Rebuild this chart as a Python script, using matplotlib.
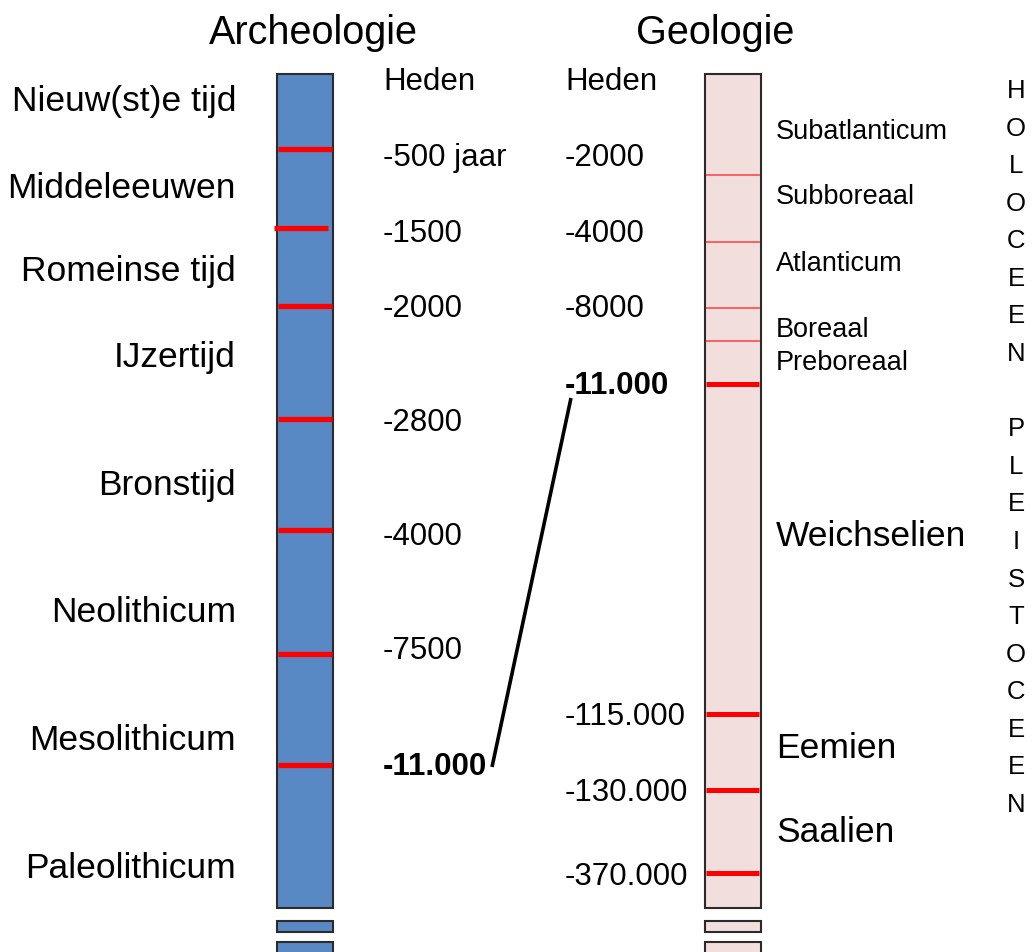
import matplotlib.pyplot as plt

plt.rcParams['font.family'] = ['Liberation Sans', 'DejaVu Sans']

# archeologie kolom
arch_periods = ['Nieuw(st)e tijd', 'Middeleeuwen', 'Romeinse tijd', 'IJzertijd',
                'Bronstijd', 'Neolithicum', 'Mesolithicum', 'Paleolithicum']
arch_period_y = [98, 185, 269, 354, 483, 610, 737, 866]
arch_dates = ['Heden', '-500 jaar', '-1500', '-2000', '-2800', '-4000', '-7500', '-11.000']
arch_date_y = [79, 155, 231, 306, 420, 534, 648, 764]
arch_bounds = [149, 228, 306, 419, 530, 654, 765]
arch_bound_shift = [0, -4, 0, 0, 0, 0, 0]

# geologie kolom
geo_dates = ['Heden', '-2000', '-4000', '-8000', '-11.000', '-115.000', '-130.000', '-370.000']
geo_date_y = [79, 155, 231, 306, 383, 714, 790, 874]
geo_stages = ['Subatlanticum', 'Subboreaal', 'Atlanticum', 'Boreaal', 'Preboreaal',
              'Weichselien', 'Eemien', 'Saalien']
geo_stage_y = [129, 194, 261, 327, 360, 533, 746, 830]
geo_stage_big = [False, False, False, False, False, True, True, True]
geo_thin = [175, 242, 308, 341]
geo_thick = [384, 714, 790, 873]

epochs = 'HOLOCEEN'
epochs2 = 'PLEISTOCEEN'

fig = plt.figure(figsize=(10.32, 9.52), dpi=100)
ax = fig.add_axes([0, 0, 1, 1])
ax.set_xlim(0, 1032)
ax.set_ylim(952, 0)
ax.axis('off')

blue = '#5889C4'
pink = '#F2DEDD'
edge = '#2b2b2b'
dy = 3  # tekst iets omlaag

for x0, col in [(277, blue), (705, pink)]:
    w = 56
    ax.bar(x0 + w / 2, 908 - 74, bottom=74, width=w, color=col, edgecolor=edge, linewidth=1.5)
    ax.bar(x0 + w / 2, 932 - 921, bottom=921, width=w, color=col, edgecolor=edge, linewidth=1.5)
    ax.bar(x0 + w / 2, 30, bottom=942, width=w, color=col, edgecolor=edge, linewidth=1.5)

for y, s in zip(arch_bounds, arch_bound_shift):
    ax.hlines(y, 278 + s, 332 + s, color='#FF0000', linewidth=3.8)

ax.hlines(geo_thin, 706, 760, color='#FF4040', linewidth=1.1)
ax.hlines(geo_thick, 706, 759, color='#FF0000', linewidth=3.6)

ax.text(313, 30 + dy, 'Archeologie', fontsize=28.5, ha='center', va='center')
ax.text(715, 30 + dy, 'Geologie', fontsize=28.5, ha='center', va='center')

for lab, y in zip(arch_periods, arch_period_y):
    ax.text(236, y + dy, lab, fontsize=25.5, ha='right', va='center')

for lab, y in zip(arch_dates, arch_date_y):
    ax.text(383, y + dy, lab, fontsize=22.5, ha='left', va='center',
            fontweight='bold' if lab == '-11.000' else 'normal')

for lab, y in zip(geo_dates, geo_date_y):
    ax.text(565, y + dy, lab, fontsize=22.5, ha='left', va='center',
            fontweight='bold' if lab == '-11.000' else 'normal')

for lab, y, big in zip(geo_stages, geo_stage_y, geo_stage_big):
    ax.text(776, y + dy, lab, fontsize=25.5 if big else 19.5, ha='left', va='center')

ax.plot([492, 571], [767, 398], color='black', linewidth=2.6, solid_capstyle='butt')

ax.text(1016, 448, '\n'.join(epochs + ' ' + epochs2), fontsize=18.5, ha='center',
        va='center', linespacing=1.715)

fig.savefig('out.png', dpi=100)
